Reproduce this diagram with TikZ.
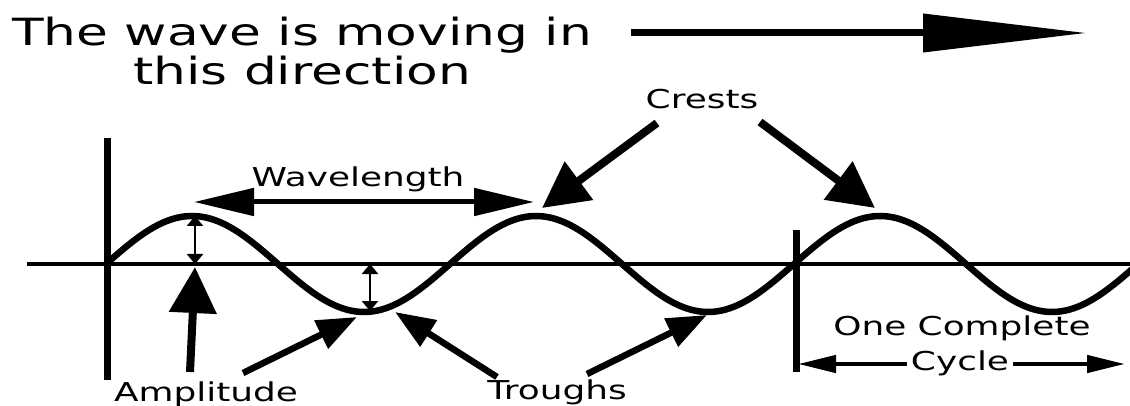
\documentclass[tikz,border=0pt]{standalone}
\usepackage{fontspec}
\setmainfont[FakeStretch=1.38]{DejaVu Sans}
\usepackage{tikz}
\usetikzlibrary{arrows.meta}

\begin{document}
\begin{tikzpicture}[
    x=1pt, y=-1pt,
    txt/.style    = {anchor=base, inner sep=0pt, font=\fontsize{26}{30}\selectfont},
    bigtxt/.style = {anchor=base, inner sep=0pt, align=center,
                     font=\fontsize{37.5}{39}\selectfont},
    wave/.style   = {line width=6.5pt},
    axis/.style   = {line width=3.5pt},
    bar/.style    = {line width=7pt},
    amp/.style    = {line width=2.5pt,
                     {Triangle[length=10pt,width=16pt]}-{Triangle[length=10pt,width=16pt]}},
    pointer/.style = {line width=6.5pt, -{Triangle[length=40pt,width=30pt]}},
    bigpointer/.style = {line width=8pt, -{Triangle[length=46pt,width=46pt]}},
    span/.style   = {line width=5pt,
                     {Triangle[length=60pt,width=27pt]}-{Triangle[length=60pt,width=27pt]}},
    cyc/.style    = {line width=4.5pt, -{Triangle[length=38pt,width=17pt]}}
]
\useasboundingbox (0,0) rectangle (1130,406);

%% ---- wave features ----
\coordinate (origin)  at (107,264);
\coordinate (crestA)  at (195,216);
\coordinate (baseA)   at (195,264);
\coordinate (troughA) at (370,311);
\coordinate (baseB)   at (370,264);
\coordinate (period)  at (796,264);

%% ---- axes and wave ----
\draw[axis] (27,264) -- (1130,264);
\draw[bar]  (107,138) -- (107,380);
\draw[bar]  (796,230) -- (796,372);
\begin{scope}
    \clip (0,0) rectangle (1130,406);
    \draw[wave] plot[domain=106:1134, samples=240]
        (\x, {264-48*sin((\x-106)/344*360)});
\end{scope}

%% ---- labels ----
\node[bigtxt] (title) at (302,85) {The wave is moving in\\this direction};
\node[txt] (crests)   at (702,109) {Crests};
\node[txt] (wavelen)  at (358,187) {Wavelength};
\node[txt] (amplit)   at (206,401) {Amplitude};
\node[txt] (troughs)  at (557,399) {Troughs};
\node[txt] (complete) at (962,335) {One Complete};
\node[txt] (cycle)    at (960,370) {Cycle};

%% ---- direction of travel ----
\coordinate (dirTail) at (631,33);
\coordinate (dirTip)  at (1087,33);
\draw[line width=7pt, -{Triangle[length=164pt,width=37pt]}] (dirTail) -- (dirTip);

%% ---- amplitude markers ----
\draw[amp] (crestA) -- (baseA);
\draw[amp] (baseB) -- (troughA);
\coordinate (ampTail) at (190,372);
\draw[bigpointer] (ampTail) -- (195,267);

%% ---- wavelength ----
\coordinate (waveL) at (194,202);
\coordinate (waveR) at (534,202);
\draw[span] (waveL) -- (waveR);

%% ---- crests ----
\coordinate (crestTailA) at (657,123);
\coordinate (crestTailB) at (760,122);
\draw[bigpointer] (crestTailA) -- (542,208);
\draw[bigpointer] (crestTailB) -- (875,208);

%% ---- troughs ----
\coordinate (troughTailA) at (243,373);
\coordinate (troughTailB) at (497,377);
\coordinate (troughTailC) at (587,374);
\draw[pointer] (troughTailA) -- (357,317);
\draw[pointer] (troughTailB) -- (395,312);
\draw[pointer] (troughTailC) -- (707,315);

%% ---- one complete cycle ----
\draw[cyc] (cycle.west |- 0,364) ++(-4,0) -- (798,364);
\draw[cyc] (cycle.east |- 0,364) ++(4,0) -- (1125,364);

\end{tikzpicture}
\end{document}
